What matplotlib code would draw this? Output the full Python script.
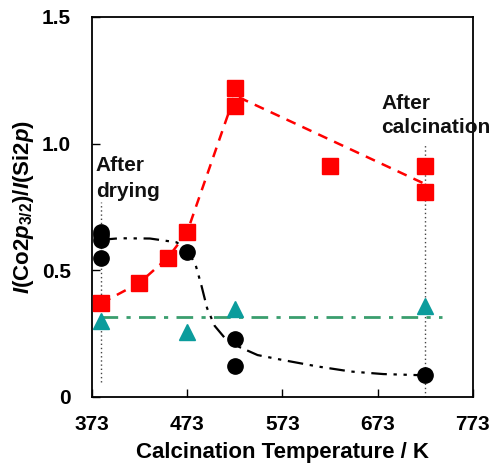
import matplotlib
matplotlib.use("Agg")
import matplotlib.pyplot as plt

plt.rcParams['font.family'] = ['Liberation Sans', 'DejaVu Sans']
plt.rcParams['font.weight'] = 'bold'
plt.rcParams['mathtext.fontset'] = 'custom'
plt.rcParams['mathtext.rm'] = 'Liberation Sans:bold'
plt.rcParams['mathtext.it'] = 'Liberation Sans:italic:bold'
plt.rcParams['mathtext.bf'] = 'Liberation Sans:bold'

# Co2p/Si2p (red squares)
red_t = [383, 423, 453, 473, 523, 523, 623, 723, 723]
red_v = [0.37, 0.45, 0.55, 0.65, 1.22, 1.15, 0.91, 0.91, 0.81]
red_line_t = [383, 423, 453, 473, 523, 723]
red_line_v = [0.37, 0.45, 0.55, 0.65, 1.19, 0.84]

# black circles
blk_t = [383, 383, 383, 383, 473, 523, 523, 723]
blk_v = [0.65, 0.64, 0.62, 0.55, 0.57, 0.23, 0.12, 0.085]
# trend curve
blk_line_t = [383, 402, 434, 462, 474, 482, 488, 494, 502, 512, 526, 547, 574, 610, 645, 679, 723]
blk_line_v = [0.62, 0.626, 0.625, 0.61, 0.575, 0.52, 0.44, 0.35, 0.28, 0.235, 0.20, 0.165, 0.145, 0.12, 0.10, 0.09, 0.085]

# teal triangles
tri_t = [383, 473, 523, 723]
tri_v = [0.30, 0.255, 0.345, 0.36]
grn_line_t = [383, 741]
grn_line_v = [0.315, 0.315]

xticks = [373, 473, 573, 673, 773]
yticks = [0, 0.5, 1.0, 1.5]
ytick_labels = ['0', '0.5', '1.0', '1.5']

fig = plt.figure(figsize=(4.94, 4.68), dpi=100)
ax = fig.add_axes([0.186, 0.152, 0.771, 0.812])

# vertical dotted guides
ax.plot([383, 383], [0.06, 0.77], color='#444444', lw=1, ls=(0, (1, 2)), zorder=1)
ax.plot([723, 723], [0.0, 1.0], color='#444444', lw=1, ls=(0, (1, 2)), zorder=1)

ax.plot(grn_line_t, grn_line_v, color='#3a9e6e', lw=2, ls=(0, (6, 3, 1.5, 3)), zorder=2)
ax.plot(blk_line_t, blk_line_v, color='black', lw=1.6, ls=(0, (7, 3, 1.5, 3, 1.5, 3)), zorder=2)
ax.plot(red_line_t, red_line_v, color='#ff0000', lw=1.8, ls=(0, (4, 3)), zorder=2)

ax.plot(tri_t, tri_v, ls='none', marker='^', ms=12, color='#0b9c9c', zorder=3)
ax.plot(blk_t, blk_v, ls='none', marker='o', ms=11, color='black', zorder=3)
ax.plot(red_t, red_v, ls='none', marker='s', ms=11, color='#ff0000', zorder=4)

ax.text(377, 0.95, 'After\ndrying', fontsize=15, fontweight='bold', va='top', ha='left', color='#111111', linespacing=1.45)
ax.text(677, 1.195, 'After\ncalcination', fontsize=15, fontweight='bold', va='top', ha='left', color='#111111', linespacing=1.35)

ax.set_xlim(373, 773)
ax.set_ylim(0, 1.5)
ax.set_xticks(xticks)
ax.set_xticklabels([str(t) for t in xticks])
ax.set_yticks(yticks)
ax.set_yticklabels(ytick_labels)
ax.tick_params(direction='in', length=6, width=1, labelsize=15)
ax.tick_params(axis='x', pad=13)
ax.tick_params(axis='y', pad=15)
for lab in ax.get_xticklabels() + ax.get_yticklabels():
    lab.set_fontweight('bold')
for s in ax.spines.values():
    s.set_linewidth(1.3)

ax.set_xlabel('Calcination Temperature / K', fontsize=16, fontweight='bold', labelpad=6)
ax.set_ylabel(r'$\mathit{I}\mathrm{(Co2}\mathit{p}_{\mathrm{3/2}}\mathrm{)/}\mathit{I}\mathrm{(Si2}\mathit{p}\mathrm{)}$',
              fontsize=16, labelpad=4)

fig.savefig('out.png', dpi=100)
